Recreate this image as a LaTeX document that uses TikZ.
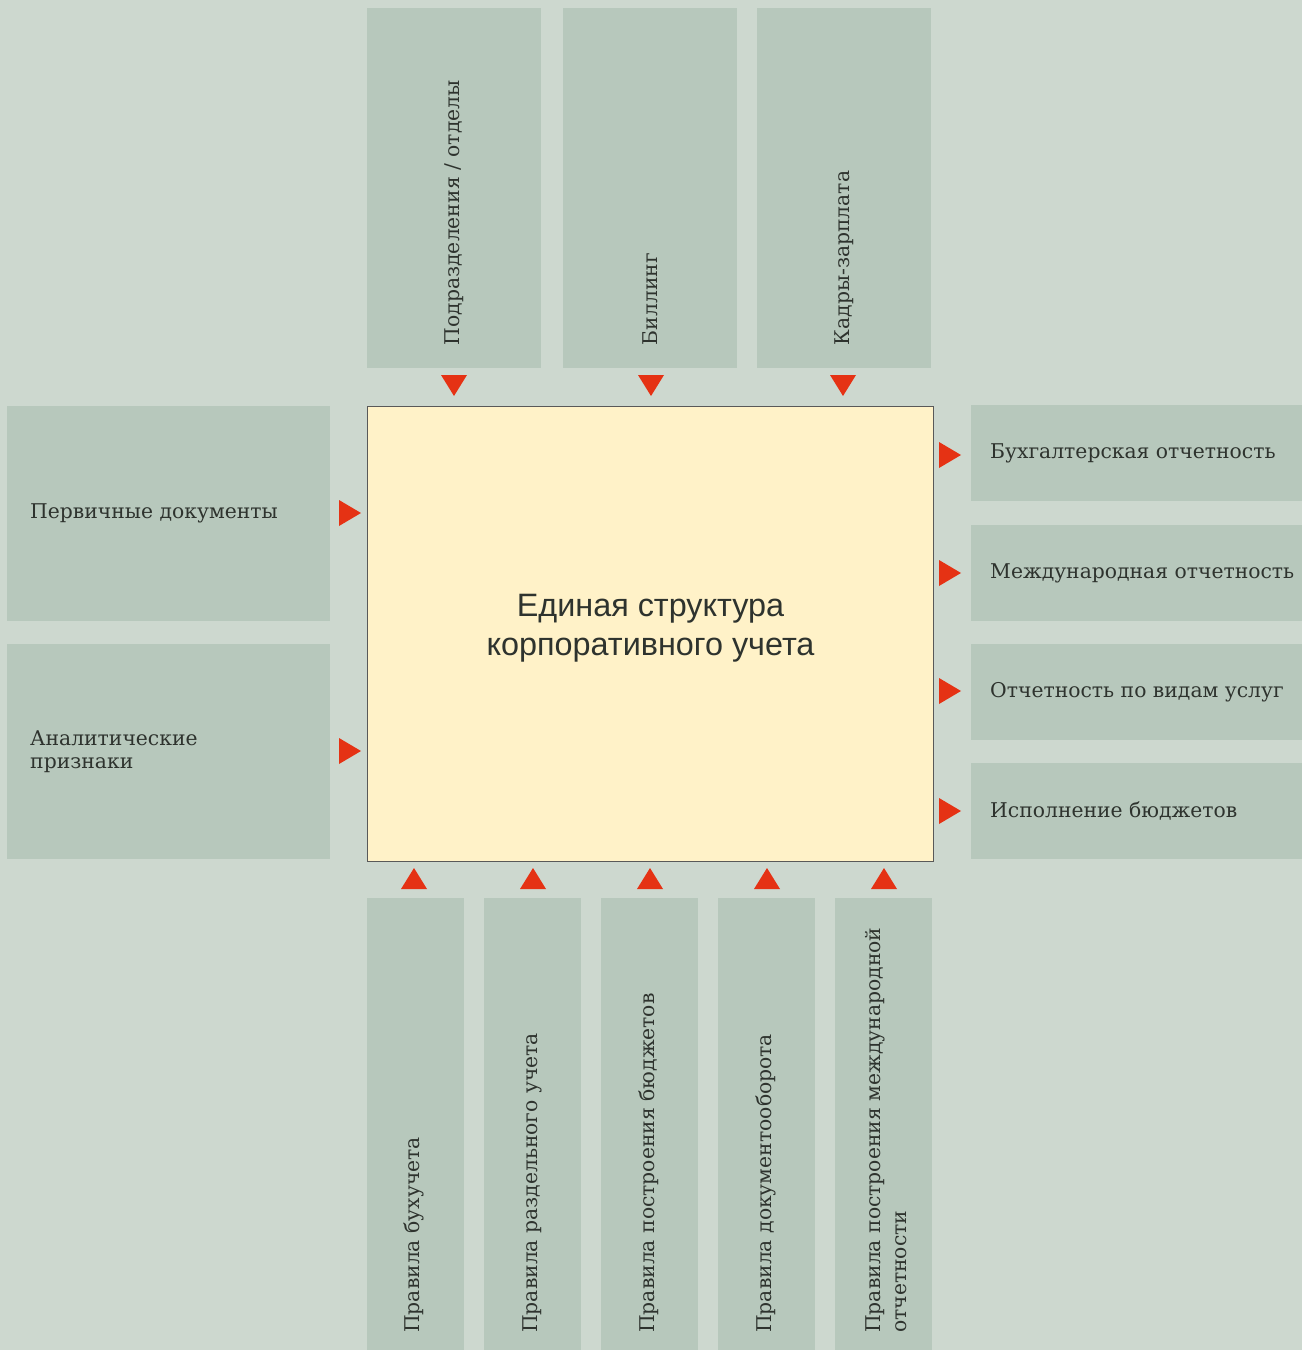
\documentclass[tikz,border=0pt]{standalone}
\usepackage{fontspec}
\setmainfont{DejaVu Serif}
\newfontfamily\corefont{Liberation Sans}
\definecolor{bggreen}{HTML}{CDD8CF}
\definecolor{boxgreen}{HTML}{B7C8BC}
\definecolor{paleyellow}{HTML}{FFF2C8}
\definecolor{arrowred}{HTML}{E53214}
\definecolor{inkgrey}{HTML}{2E332E}

\begin{document}
\begin{tikzpicture}[x=1bp,y=-1bp,
  box/.style={fill=boxgreen, inner sep=0, anchor=north west},
  lbl/.style={font=\fontsize{20.4}{24}\selectfont, text=inkgrey, inner sep=0, align=left},
  tipred/.style={fill=arrowred}]

\fill[bggreen] (0,0) rectangle (1302,1350);
\useasboundingbox (0,0) rectangle (1302,1350);

\node[box, fill=paleyellow, draw=black!65, line width=1bp, minimum width=566bp, minimum height=455bp] (core) at (367,406) {};
\node[font=\corefont\fontsize{32.5}{39}\selectfont, text=inkgrey, align=center] (coretxt) at ([yshift=6bp]core.center) {Единая структура\\корпоративного учета};

\node[box, minimum width=174bp, minimum height=360bp] (src1) at (367,8) {};
\node[box, minimum width=174bp, minimum height=360bp] (src2) at (563,8) {};
\node[box, minimum width=174bp, minimum height=360bp] (src3) at (757,8) {};
\node[lbl, rotate=90, anchor=west] (src1txt) at ([yshift=23bp]src1.south) {Подразделения / отделы};
\node[lbl, rotate=90, anchor=west] (src2txt) at ([yshift=23bp]src2.south) {Биллинг};
\node[lbl, rotate=90, anchor=west] (src3txt) at ([yshift=23bp]src3.south) {Кадры-зарплата};

\node[box, minimum width=323bp, minimum height=215bp] (in1) at (7,406) {};
\node[box, minimum width=323bp, minimum height=215bp] (in2) at (7,644) {};
\node[lbl, anchor=west] (in1txt) at ([xshift=23bp]in1.west) {Первичные документы};
\node[lbl, anchor=west] (in2txt) at ([xshift=23bp]in2.west) {Аналитические\\признаки};

\node[box, minimum width=331bp, minimum height=96bp] (out1) at (971,405) {};
\node[box, minimum width=331bp, minimum height=96bp] (out2) at (971,525) {};
\node[box, minimum width=331bp, minimum height=96bp] (out3) at (971,644) {};
\node[box, minimum width=331bp, minimum height=96bp] (out4) at (971,763) {};
\node[lbl, anchor=west] (out1txt) at ([xshift=19bp]out1.west) {Бухгалтерская отчетность};
\node[lbl, anchor=west] (out2txt) at ([xshift=19bp]out2.west) {Международная отчетность};
\node[lbl, anchor=west] (out3txt) at ([xshift=19bp]out3.west) {Отчетность по видам услуг};
\node[lbl, anchor=west] (out4txt) at ([xshift=19bp]out4.west) {Исполнение бюджетов};

\node[box, minimum width=97bp, minimum height=460bp] (rule1) at (367,898) {};
\node[box, minimum width=97bp, minimum height=460bp] (rule2) at (484,898) {};
\node[box, minimum width=97bp, minimum height=460bp] (rule3) at (601,898) {};
\node[box, minimum width=97bp, minimum height=460bp] (rule4) at (718,898) {};
\node[box, minimum width=97bp, minimum height=460bp] (rule5) at (835,898) {};
\node[lbl, rotate=90, anchor=west] (rule1txt) at (414,1333) {Правила бухучета};
\node[lbl, rotate=90, anchor=west] (rule2txt) at (532,1333) {Правила раздельного учета};
\node[lbl, rotate=90, anchor=west] (rule3txt) at (649,1333) {Правила построения бюджетов};
\node[lbl, rotate=90, anchor=west] (rule4txt) at (766,1333) {Правила документооборота};
\node[lbl, rotate=90, anchor=west, font=\fontsize{20.4}{26}\selectfont] (rule5txt) at (886,1333) {Правила построения международной\\отчетности};

\foreach \x in {454,651,843} \fill[tipred] (\x-13,375) -- (\x+13,375) -- (\x,396) -- cycle;
\foreach \y in {513,751} \fill[tipred] (339,\y-13) -- (361,\y) -- (339,\y+13) -- cycle;
\foreach \y in {455,573,691,811} \fill[tipred] (939,\y-13) -- (961,\y) -- (939,\y+13) -- cycle;
\foreach \x in {414,533,650,767,884} \fill[tipred] (\x-13,889) -- (\x+13,889) -- (\x,868) -- cycle;

\end{tikzpicture}
\end{document}
